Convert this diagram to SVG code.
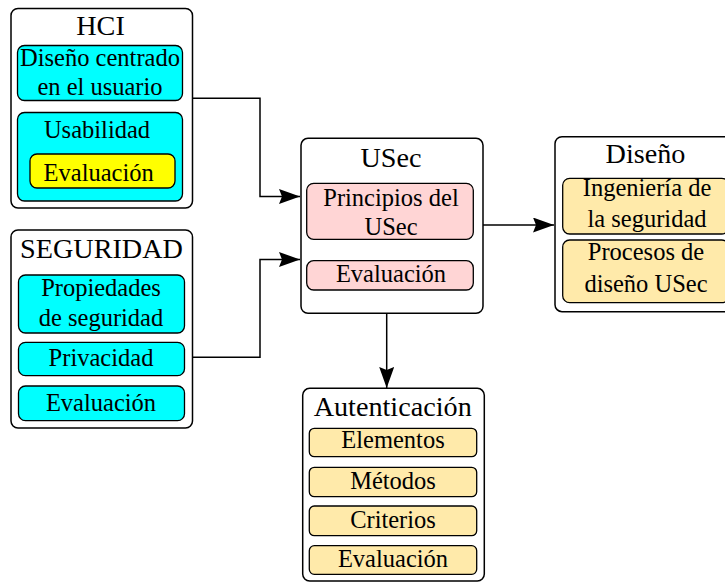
<svg xmlns="http://www.w3.org/2000/svg" width="725" height="582" viewBox="0 0 725 582">
<defs>
<marker id="ah" markerUnits="userSpaceOnUse" markerWidth="22" markerHeight="16" refX="21" refY="7.5" orient="auto">
<path d="M0,0 L21,7.5 L0,15 L3,7.5 Z" fill="#000"/>
</marker>
<style>
.outer{fill:#fff;stroke:#000;stroke-width:1.5}
.cy{fill:#00ffff;stroke:#000;stroke-width:1.3}
.ye{fill:#ffff00;stroke:#000;stroke-width:1.3}
.pk{fill:#ffd5d5;stroke:#000;stroke-width:1.3}
.lt{fill:#ffeaaa;stroke:#000;stroke-width:1.3}
text{font-family:"Liberation Serif","Times New Roman",serif;fill:#000;text-anchor:middle}
.t{font-size:28.2px}
.s{font-size:24.5px}
.c{fill:none;stroke:#000;stroke-width:1.5}
</style>
</defs>
<g id="connectors">
<path class="c" d="M192.7,98.3 H260 V196.5 H300" marker-end="url(#ah)"/>
<path class="c" d="M192.7,357.3 H260 V259.5 H300" marker-end="url(#ah)"/>
<path class="c" d="M483,225 H554" marker-end="url(#ah)"/>
<path class="c" d="M386.7,313.3 V388" marker-end="url(#ah)"/>
</g>
<g id="hci">
<rect class="outer" x="11" y="8.5" width="181.5" height="199.5" rx="7"/>
<text class="t" x="100.5" y="35">HCI</text>
<rect class="cy" x="17.5" y="45.5" width="165" height="55" rx="7"/>
<text class="s" x="100" y="65.5">Diseño centrado</text>
<text class="s" x="100" y="95">en el usuario</text>
<rect class="cy" x="17.5" y="112.5" width="165" height="88.5" rx="7"/>
<text class="s" x="97" y="137.5">Usabilidad</text>
<rect class="ye" x="30" y="154" width="145" height="34" rx="7"/>
<text class="s" x="98.7" y="181">Evaluación</text>
</g>
<g id="seguridad">
<rect class="outer" x="11" y="230" width="181.5" height="198" rx="7"/>
<text class="t" x="101.5" y="258">SEGURIDAD</text>
<rect class="cy" x="18.5" y="275" width="166" height="58" rx="7"/>
<text class="s" x="101" y="296">Propiedades</text>
<text class="s" x="101" y="326">de seguridad</text>
<rect class="cy" x="18.5" y="342.3" width="166" height="33.4" rx="7"/>
<text class="s" x="101" y="365.5">Privacidad</text>
<rect class="cy" x="18.5" y="386" width="166" height="34.7" rx="7"/>
<text class="s" x="101" y="410.5">Evaluación</text>
</g>
<g id="usec">
<rect class="outer" x="301" y="138.3" width="182" height="175" rx="7"/>
<text class="t" x="391" y="166.5">USec</text>
<rect class="pk" x="306.7" y="183.3" width="166.6" height="56" rx="7"/>
<text class="s" x="391" y="206">Principios del</text>
<text class="s" x="391" y="235">USec</text>
<rect class="pk" x="306.7" y="260.7" width="166.6" height="29.3" rx="7"/>
<text class="s" x="391" y="281.5">Evaluación</text>
</g>
<g id="diseno">
<rect class="outer" x="555" y="136.7" width="182" height="175" rx="7"/>
<text class="t" x="645.5" y="163.3">Diseño</text>
<rect class="lt" x="562.7" y="178.3" width="166" height="55.7" rx="7"/>
<text class="s" x="647" y="196">Ingeniería de</text>
<text class="s" x="647" y="226.7">la seguridad</text>
<rect class="lt" x="562.7" y="240" width="166" height="62.7" rx="7"/>
<text class="s" x="646" y="260">Procesos de</text>
<text class="s" x="646" y="291.7">diseño USec</text>
</g>
<g id="autenticacion">
<rect class="outer" x="302.7" y="388.3" width="181.6" height="192.7" rx="7"/>
<text class="t" x="392.7" y="416">Autenticación</text>
<rect class="lt" x="309.3" y="428.3" width="167.4" height="28.4" rx="5"/>
<text class="s" x="393" y="448.3">Elementos</text>
<rect class="lt" x="309.3" y="467.3" width="167.4" height="29.4" rx="5"/>
<text class="s" x="393" y="489">Métodos</text>
<rect class="lt" x="309.3" y="506" width="167.4" height="29.7" rx="5"/>
<text class="s" x="393" y="527.7">Criterios</text>
<rect class="lt" x="309.3" y="545.7" width="167.4" height="28.6" rx="5"/>
<text class="s" x="393" y="566.7">Evaluación</text>
</g>
</svg>
